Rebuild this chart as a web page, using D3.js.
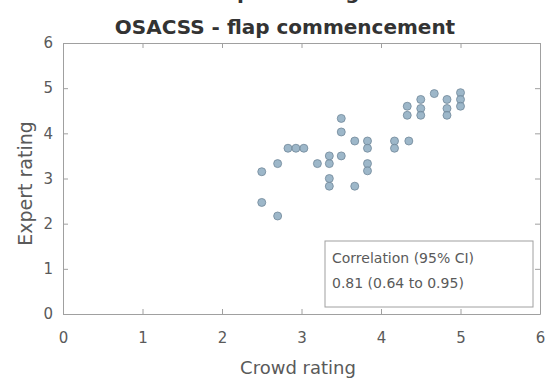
<!DOCTYPE html>
<html>
<head>
<meta charset="utf-8">
<script src="https://cdn.jsdelivr.net/npm/d3@7"></script>
<style>
  html, body { margin: 0; padding: 0; background: #fff; }
  svg { display: block; font-family: "DejaVu Sans", sans-serif; }
</style>
</head>
<body>
<svg id="chart" width="548" height="380"></svg>
<script>
// Crowd vs expert ratings, one point per video
const crowdRating  = [2.50, 2.50, 2.70, 2.70, 2.83, 2.93, 3.03, 3.20, 3.35, 3.35, 3.35, 3.35,
                      3.50, 3.50, 3.50, 3.67, 3.67, 3.83, 3.83, 3.83, 3.83, 4.17, 4.17, 4.35,
                      4.33, 4.33, 4.50, 4.50, 4.50, 4.67, 4.83, 4.83, 4.83, 5.00, 5.00, 5.00];
const expertRating = [3.15, 2.47, 3.33, 2.17, 3.67, 3.67, 3.67, 3.33, 3.33, 3.50, 2.83, 3.00,
                      4.33, 4.03, 3.50, 3.83, 2.83, 3.83, 3.67, 3.33, 3.17, 3.83, 3.67, 3.83,
                      4.60, 4.40, 4.75, 4.55, 4.40, 4.88, 4.75, 4.55, 4.40, 4.90, 4.75, 4.60];

const xTicks = [0, 1, 2, 3, 4, 5, 6];
const yTicks = [0, 1, 2, 3, 4, 5, 6];

const titleLines = ["Expert rating", "OSACSS - flap commencement"];
const xLabel = "Crowd rating";
const yLabel = "Expert rating";
const legendLines = ["Correlation (95% CI)", "0.81 (0.64 to 0.95)"];

const svg = d3.select("#chart");
const plot = { left: 63, right: 540, top: 43, bottom: 314 };
const axisColor = "#a0a0a0";
const textColor = "#5a5a5a";

const x = d3.scaleLinear().domain([0, 6]).range([plot.left, plot.right]);
const y = d3.scaleLinear().domain([0, 6]).range([plot.bottom, plot.top]);

// Titles (first line sits mostly above the canvas)
svg.append("text")
  .attr("x", 285).attr("y", -1)
  .attr("text-anchor", "middle")
  .attr("font-weight", "bold").attr("font-size", 20).attr("fill", "#333")
  .text(titleLines[0]);
svg.append("text")
  .attr("x", 285).attr("y", 34)
  .attr("text-anchor", "middle")
  .attr("font-weight", "bold").attr("font-size", 20).attr("fill", "#333")
  .text(titleLines[1]);

// Axes with inward ticks
svg.append("g")
  .attr("transform", `translate(0,${plot.bottom})`)
  .call(d3.axisBottom(x).tickValues(xTicks).tickFormat(d3.format("d"))
        .tickSizeInner(-5).tickSizeOuter(0).tickPadding(18));
svg.append("g")
  .attr("transform", `translate(${plot.left},0)`)
  .call(d3.axisLeft(y).tickValues(yTicks).tickFormat(d3.format("d"))
        .tickSizeInner(-5).tickSizeOuter(0).tickPadding(10));
// Mirror ticks on top and right (box on)
svg.append("g")
  .attr("transform", `translate(0,${plot.top})`)
  .call(d3.axisTop(x).tickValues(xTicks).tickFormat("").tickSizeInner(-5).tickSizeOuter(0));
svg.append("g")
  .attr("transform", `translate(${plot.right},0)`)
  .call(d3.axisRight(y).tickValues(yTicks).tickFormat("").tickSizeInner(-5).tickSizeOuter(0));

svg.selectAll(".domain, .tick line").attr("stroke", axisColor);
svg.selectAll(".tick text").attr("fill", textColor).attr("font-size", 15)
  .attr("font-family", "DejaVu Sans, sans-serif");

// Axis labels
svg.append("text")
  .attr("x", 298).attr("y", 374)
  .attr("text-anchor", "middle").attr("font-size", 18).attr("fill", textColor)
  .text(xLabel);
svg.append("text")
  .attr("transform", `translate(32,${(plot.top + plot.bottom) / 2 + 5}) rotate(-90)`)
  .attr("text-anchor", "middle").attr("font-size", 19).attr("fill", textColor)
  .text(yLabel);

// Points
const pts = crowdRating.map((c, i) => ({ c, e: expertRating[i] }));
svg.append("g").selectAll("circle")
  .data(pts).join("circle")
  .attr("cx", d => x(d.c)).attr("cy", d => y(d.e))
  .attr("r", 4)
  .attr("fill", "#8caac0").attr("fill-opacity", 0.85)
  .attr("stroke", "#718899").attr("stroke-width", 0.8);

// Correlation box
const lg = svg.append("g");
lg.append("rect")
  .attr("x", 325).attr("y", 241).attr("width", 208).attr("height", 66)
  .attr("fill", "#fff").attr("stroke", axisColor);
lg.selectAll("text").data(legendLines).join("text")
  .attr("x", 332).attr("y", (d, i) => 263 + i * 25)
  .attr("font-size", 14).attr("fill", textColor)
  .text(d => d);
</script>
</body>
</html>
